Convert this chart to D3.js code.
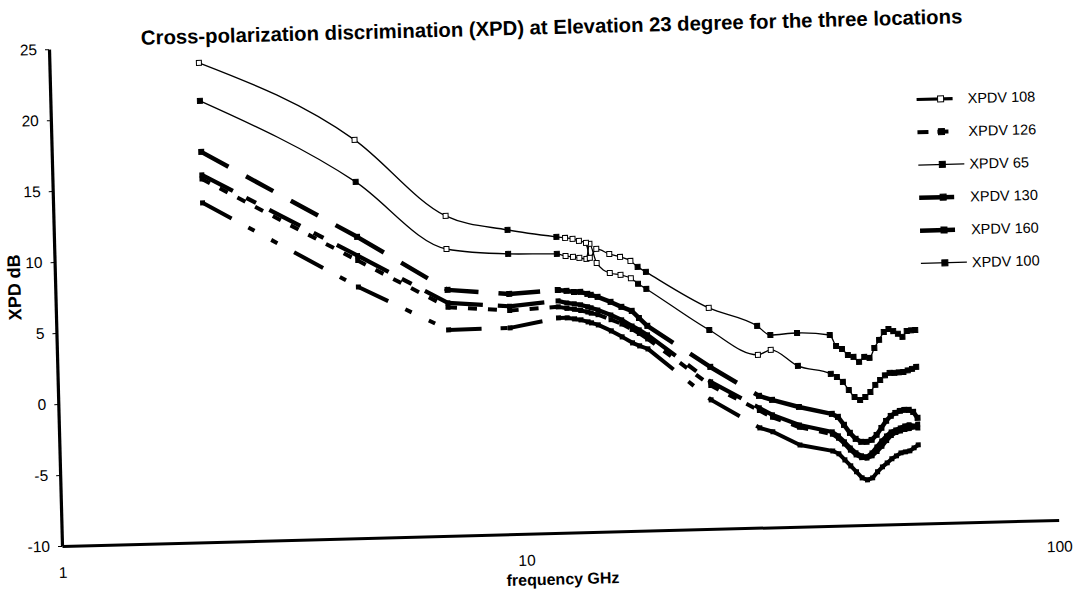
<!DOCTYPE html>
<html>
<head>
<meta charset="utf-8">
<script src="https://cdn.jsdelivr.net/npm/d3@7"></script>
<style>
  html, body { margin: 0; padding: 0; background: #fff; }
  svg { display: block; font-family: "Liberation Sans", Arial, sans-serif; }
</style>
</head>
<body>
<svg id="chart" width="1084" height="604"></svg>
<script>
// Measurement frequencies (GHz) shared by all six series
const freqGHz = [2.1, 4.5, 7.0, 9.5, 11.8, 12.25, 12.65, 13.0, 13.4, 13.6, 14.0, 14.8, 15.5, 16.2, 16.7, 17.3,
                 22.6, 27.8, 29.4, 33.0, 38, 39, 40, 41, 42, 43, 44, 45, 46, 47, 48, 49, 50, 51, 52, 53, 54, 55];

// XPD (dB) per series
const xpdv65  = [23.76, 18.05, 12.53, 11.43, 10.85, 10.76, 10.68, 10.53, 10.37, 9.31, 9.93, 9.55, 9.32, 9.02, 8.59, 8.22,
                 5.57, 4.21, 3.55, 3.64, 3.44, 2.65, 2.43, 2.0, 1.85, 1.49, 1.83, 1.75, 2.44, 3.0, 3.55, 3.75, 3.6, 3.4, 3.17, 3.58, 3.62, 3.63];
const xpdv100 = [21.08, 15.09, 10.2, 9.74, 9.65, 9.49, 9.41, 9.33, 9.25, 10.3, 8.94, 8.21, 8.06, 7.8, 7.4, 7.02,
                 4.01, 2.17, 2.5, 1.32, 0.7, 0.47, 0.11, -0.47, -0.97, -1.19, -0.99, -0.65, -0.16, 0.18, 0.5, 0.66, 0.65, 0.68, 0.7, 0.8, 0.9, 1.03];
const xpdv130 = [17.49, 11.22, 7.32, 6.92, 7.11, 7.03, 6.94, 6.94, 6.78, 6.7, 6.55, 6.17, 5.8, 5.5, 4.99, 4.42,
                 1.41, -0.72, -1.02, -1.57, -2.12, -2.34, -2.92, -3.49, -3.92, -4.14, -4.15, -4.02, -3.68, -3.19, -2.71, -2.37, -2.16, -2.03, -1.97, -1.98, -2.13, -2.56];
const xpdv160 = [15.87, 9.9, 6.4, 6.05, 6.34, 6.18, 6.1, 6.02, 5.87, 5.79, 5.63, 5.25, 4.89, 4.44, 4.15, 3.78,
                 0.36, -1.56, -2.08, -2.84, -3.39, -3.68, -4.11, -4.55, -4.91, -5.13, -5.21, -4.94, -4.52, -4.11, -3.77, -3.49, -3.36, -3.23, -3.1, -3.03, -3.12, -3.27];
const xpdv126 = [15.58, 9.55, 6.1, 5.75, 5.92, 5.8, 5.72, 5.62, 5.5, 5.42, 5.3, 4.92, 4.6, 4.2, 3.9, 3.5,
                 0.1, -1.75, -2.25, -3.0, -3.55, -3.85, -4.25, -4.7, -5.05, -5.25, -5.3, -5.15, -4.85, -4.5, -4.1, -3.75, -3.55, -3.45, -3.35, -3.3, -3.2, -3.0];
const xpdv108 = [13.9, 7.69, 4.5, 4.53, 5.14, 5.13, 5.04, 4.96, 4.81, 4.73, 4.58, 4.13, 3.69, 3.25, 3.02, 2.8,
                 -0.91, -2.97, -3.27, -4.25, -4.73, -4.94, -5.38, -5.81, -6.24, -6.68, -6.83, -6.7, -6.28, -5.94, -5.67, -5.39, -5.19, -4.99, -4.93, -4.87, -4.66, -4.46];

// Axis ticks and legend labels
const yTicks = [-10, -5, 0, 5, 10, 15, 20, 25];
const xTicks = [1, 10, 100];
const legendLabels = ["XPDV 108", "XPDV 126", "XPDV 65", "XPDV 130", "XPDV 160", "XPDV 100"];

const titleText = "Cross-polarization discrimination (XPD) at Elevation 23 degree for the three locations";

// ---- layout ----
const svg = d3.select("#chart");
const origin = [62, 546];   // plot corner (1 GHz, -10 dB)
const tilt = -1.5;          // whole sheet sits slightly askew

const x = d3.scaleLog().domain([1, 10, 100]).range([0, 464, 997]);
const y = d3.scaleLinear().domain([-10, 25]).range([0, -497]);

const root = svg.append("g")
  .attr("transform", `translate(${origin[0]},${origin[1]}) rotate(${tilt})`);

// title
root.append("text")
  .attr("x", 503).attr("y", -499)
  .attr("text-anchor", "middle")
  .attr("font-size", 20.3).attr("font-weight", "bold")
  .text(titleText);

// plain hyphen for negative numbers, as printed on the axis
const plainNumber = d => String(d);

// y axis
const yAxis = root.append("g")
  .call(d3.axisLeft(y).tickValues(yTicks).tickFormat(plainNumber).tickSize(4).tickSizeOuter(0).tickPadding(8));
yAxis.select(".domain").attr("stroke-width", 3.2);
yAxis.selectAll(".tick line").attr("stroke-width", 1);
yAxis.selectAll(".tick text").attr("font-size", 15.5).attr("font-family", "Liberation Sans, Arial, sans-serif");

// x axis
const xAxis = root.append("g")
  .call(d3.axisBottom(x).tickValues(xTicks).tickFormat(plainNumber).tickSize(0).tickSizeOuter(0).tickPadding(21));
xAxis.select(".domain").attr("stroke-width", 3);
xAxis.selectAll(".tick text").attr("font-size", 15.5).attr("font-family", "Liberation Sans, Arial, sans-serif");

// axis titles
root.append("text")
  .attr("transform", `translate(-41,${y(8.3)}) rotate(-90)`)
  .attr("text-anchor", "middle").attr("dy", "0.35em")
  .attr("font-size", 18).attr("font-weight", "bold")
  .text("XPD dB");
root.append("text")
  .attr("x", 500).attr("y", 46).attr("dy", "0.35em")
  .attr("text-anchor", "middle")
  .attr("font-size", 16).attr("font-weight", "bold")
  .text("frequency GHz");

// ---- series ----
const plot = root.append("g");

// dashed heavy series: every segment between two readings restarts its dash pattern
function heavySeries(values, dash, width, markerSize) {
  const pts = freqGHz.map((f, i) => [x(f), y(values[i])]);
  const g = plot.append("g");
  g.selectAll("line").data(d3.pairs(pts)).join("line")
    .attr("x1", d => d[0][0]).attr("y1", d => d[0][1])
    .attr("x2", d => d[1][0]).attr("y2", d => d[1][1])
    .attr("stroke", "#000").attr("stroke-width", width)
    .attr("stroke-dasharray", dash);
  g.selectAll("rect").data(pts).join("rect")
    .attr("x", d => d[0] - markerSize / 2).attr("y", d => d[1] - markerSize / 2)
    .attr("width", markerSize).attr("height", markerSize)
    .attr("fill", "#000");
}

// thin smoothed series with square markers; listed indices use hollow markers
function thinSeries(values, hollow) {
  const pts = freqGHz.map((f, i) => [x(f), y(values[i]), i]);
  const g = plot.append("g");
  g.append("path")
    .attr("d", d3.line().curve(d3.curveMonotoneX)(pts.map(p => [p[0], p[1]])))
    .attr("fill", "none").attr("stroke", "#000").attr("stroke-width", 1.3);
  g.selectAll("rect").data(pts).join("rect")
    .attr("x", d => d[0] - 2.5).attr("y", d => d[1] - 2.5)
    .attr("width", 5).attr("height", 5)
    .attr("fill", d => hollow.includes(d[2]) ? "#fff" : "#000")
    .attr("stroke", "#000").attr("stroke-width", 1);
}

heavySeries(xpdv108, "33,19,7,19,7,19", 4, 5);
heavySeries(xpdv126, "9,11", 4, 5);
heavySeries(xpdv160, "35,15,11,15", 4.2, 5);
heavySeries(xpdv130, "31,20", 4.5, 6);
thinSeries(xpdv100, [2, 5, 6, 7, 8, 9, 10, 11, 12, 13, 17, 18]);
thinSeries(xpdv65, [0, 1, 2, 5, 6, 7, 8, 9, 10, 11, 12, 13, 16]);

// ---- legend ----
const legendStyles = [
  { width: 3.2, dash: null, len: 36, marker: "hollow" },
  { width: 4,   dash: "11,9", len: 36, marker: "filled" },
  { width: 1.2, dash: null, len: 46, marker: "filled" },
  { width: 4.5, dash: null, len: 35, marker: "filled" },
  { width: 4.5, dash: null, len: 35, marker: "filled" },
  { width: 1.2, dash: null, len: 46, marker: "filled" }
];
const legend = root.append("g").attr("transform", "translate(866,-424)");
const rows = legend.selectAll("g").data(legendLabels).join("g")
  .attr("transform", (d, i) => `translate(0,${i * 32.8})`);
rows.append("line")
  .attr("x1", 0).attr("x2", (d, i) => legendStyles[i].len)
  .attr("y1", 0).attr("y2", 0)
  .attr("stroke", "#000")
  .attr("stroke-width", (d, i) => legendStyles[i].width)
  .attr("stroke-dasharray", (d, i) => legendStyles[i].dash);
rows.append("rect")
  .attr("x", 21).attr("y", -3).attr("width", 6).attr("height", 6)
  .attr("fill", (d, i) => legendStyles[i].marker === "hollow" ? "#fff" : "#000")
  .attr("stroke", "#000").attr("stroke-width", 1);
rows.append("text")
  .attr("x", 51).attr("dy", "0.35em")
  .attr("font-size", 14.5)
  .text(d => d);
</script>
</body>
</html>
